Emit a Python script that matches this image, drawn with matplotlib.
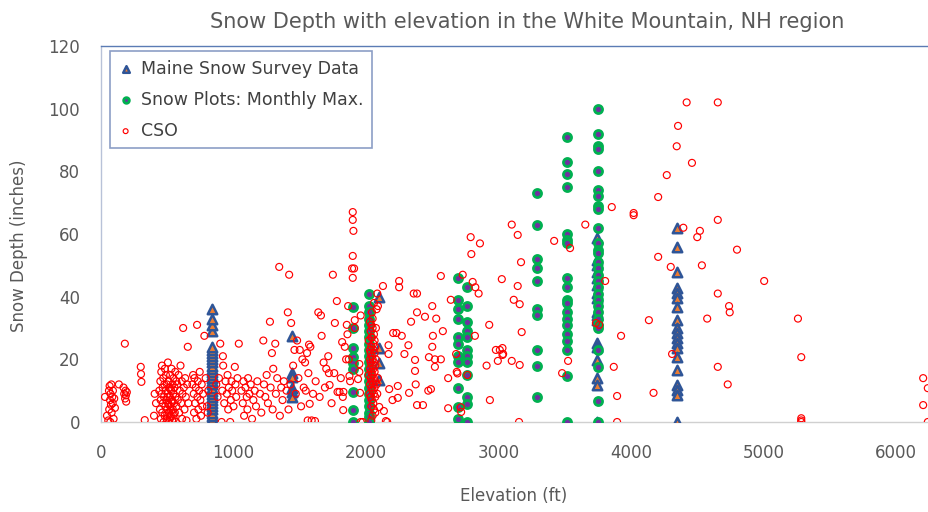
import matplotlib
matplotlib.use('Agg')
import matplotlib.pyplot as plt

# --- Maine Snow Survey Data (elevation ft, depth in) ---
maine_838 = [0, 1, 2, 3, 4, 5, 6, 7, 8, 9, 10, 11, 12, 13, 14, 15, 16, 17, 18, 19, 20, 21, 22, 23, 24,
             29, 31, 33, 36]
maine_1442 = [27.5, 15.6, 14.5, 11, 9.5, 8]
maine_2100 = [40, 23.6, 18.8, 13.4]
maine_3743 = [58.7, 51.7, 50.1, 47.9, 46, 43.7, 41.2, 39.6, 35.1, 34.2, 32.6, 25.2, 24, 19.8, 14, 11.8, 0]
maine_4347 = [61.9, 55.9, 47.9, 42.8, 41.2, 39.6, 36.7, 32.6, 30, 28.4, 26.8, 25.2, 23.6, 20.7, 16.6,
              11.8, 10.2, 8.6, 0]

# --- Snow Plots: Monthly Max. ---
plots_1900 = [36.7, 30, 23.6, 20.8, 18.8, 16.9, 9.6, 3.8, 0]
plots_2023 = [41, 37, 35, 33, 31, 29, 27, 25, 23, 21, 19, 17, 15, 13, 11, 9, 7, 5, 3, 1.5, 0]
plots_2694 = [46, 39, 36, 33, 27, 25, 21, 19, 10.8, 4.8, 1]
plots_2762 = [43, 37, 32, 29, 27, 23, 21, 19, 15, 8, 5.8, 0]
plots_3290 = [73, 63, 52, 49, 45, 36, 34, 23, 18, 8]
plots_3517 = [91, 83, 79, 75, 60, 58, 57, 46, 43, 39, 38, 35, 33, 31, 28, 26, 23, 14.7, 0]
plots_3750 = [100, 92, 88, 87, 80, 74, 72, 69, 68, 62, 57, 55, 54, 51, 49, 47, 45, 43, 41, 39, 37, 35,
              33, 31, 30, 23, 17.6, 6.7, 0]
plots_6288 = [34, 30, 27, 24, 20, 17, 13, 10, 6, 3]

# --- CSO (elevation, depth) ---
cso_valley = [
    (30, 8), (45, 2), (55, 0.5), (60, 10), (62, 4), (65, 11.5), (68, 7), (70, 0), (72, 9), (75, 5.5),
    (78, 12), (80, 3), (85, 8), (88, 6), (90, 10), (95, 1), (100, 7.5), (105, 4.5),
    (135, 12), (170, 11), (175, 9), (180, 25), (182, 7.5), (185, 10), (188, 8.5), (190, 6.5), (195, 9.5),
    (300, 17.6), (302, 15.3), (305, 12.8), (330, 0.6), (400, 2), (405, 9), (415, 6),
    (440, 10), (445, 4), (448, 13), (450, 7), (452, 1), (455, 16), (458, 9), (460, 18), (462, 3),
    (465, 11), (468, 6), (470, 14), (472, 0), (475, 8), (478, 12), (480, 2), (482, 17), (485, 5),
    (488, 10), (490, 15), (492, 7), (495, 1), (498, 12), (500, 4), (502, 9), (505, 19), (507, 6),
    (510, 13), (512, 0), (515, 3), (517, 11), (520, 8), (522, 15), (525, 5), (527, 2), (530, 10),
    (532, 17), (535, 7), (537, 0.5), (540, 12), (542, 4), (545, 9), (547, 14), (550, 1), (552, 6),
    (555, 11), (557, 3), (560, 16), (562, 8), (565, 0), (568, 13), (570, 5),
    (500, 2.5), (510, 5.5), (520, 1.5), (530, 3.5), (540, 6.5), (550, 2.5), (505, 8), (525, 10.5),
    (575, 12), (580, 7), (585, 15), (590, 3), (595, 10), (600, 18), (605, 6), (610, 13), (612, 1),
    (615, 9), (620, 30), (625, 11), (630, 4), (635, 14), (640, 8), (645, 0.5), (650, 12), (655, 24),
    (660, 6), (690, 12), (695, 15), (700, 9), (702, 3), (705, 14), (710, 6), (715, 11), (720, 1),
    (725, 31), (728, 8), (730, 13), (735, 4), (740, 10), (745, 16), (750, 7), (755, 2), (760, 12),
    (765, 5), (770, 9), (780, 27.5), (790, 14), (800, 5), (805, 3), (810, 10),
    (870, 12), (880, 8), (890, 14), (900, 25), (910, 0), (915, 10), (920, 21), (922, 18), (930, 6),
    (940, 13), (950, 9), (955, 15), (960, 4), (965, 11), (975, 0), (980, 7), (985, 13), (990, 10),
]
cso_mid = [
    (1000, 5), (1010, 17.6), (1015, 12), (1020, 8), (1030, 14), (1040, 25),
    (1060, 10), (1070, 6), (1075, 13), (1080, 2), (1090, 11), (1100, 8), (1105, 4), (1110, 14),
    (1120, 9), (1130, 12), (1140, 1), (1150, 7), (1160, 10), (1170, 5), (1180, 13), (1200, 9),
    (1210, 3), (1225, 26), (1230, 12), (1240, 8), (1250, 15), (1260, 6), (1275, 32), (1280, 11),
    (1290, 22), (1295, 4), (1300, 17), (1315, 25), (1320, 9), (1330, 14), (1345, 49.5), (1350, 2),
    (1360, 11), (1370, 7), (1380, 13), (1400, 10), (1410, 35), (1415, 4), (1420, 47), (1430, 12),
    (1435, 31.6), (1450, 18), (1460, 23), (1470, 9), (1480, 26), (1490, 14), (1500, 23), (1510, 5),
    (1520, 20), (1530, 11), (1540, 19), (1545, 10), (1555, 22), (1560, 0.5), (1565, 15.6),
    (1570, 24.7), (1575, 5.8), (1580, 24), (1590, 0.5), (1600, 9), (1615, 0.3), (1620, 13),
    (1640, 35), (1650, 8), (1660, 34), (1665, 27.5), (1680, 19), (1690, 11), (1700, 17), (1715, 21),
    (1720, 15.6), (1725, 11.8), (1740, 6), (1750, 47), (1760, 15.6), (1765, 31.6), (1780, 38.6),
    (1785, 9.6), (1800, 9.6), (1810, 14), (1820, 25.5), (1825, 8), (1828, 3.8), (1830, 9.6),
    (1840, 24), (1850, 20), (1855, 31), (1860, 28), (1865, 37), (1870, 20), (1875, 14.7), (1880, 13),
    (1900, 67), (1900, 64.5), (1905, 61), (1900, 53), (1895, 49), (1910, 49), (1900, 46),
    (1915, 32.5), (1915, 30), (1940, 13.7), (1950, 18.5), (1950, 16), (1955, 9.3), (1960, 34),
    (1960, 0), (1975, 0),
]
cso_2000s = [
    (2030, 32), (2035, 29), (2040, 31), (2045, 27), (2050, 30), (2055, 25), (2060, 28), (2065, 26),
    (2070, 24), (2030, 23), (2035, 22), (2040, 24), (2045, 21), (2050, 20), (2055, 23), (2060, 19),
    (2065, 22), (2070, 18), (2030, 17), (2035, 19), (2040, 16), (2045, 18), (2050, 15), (2055, 17),
    (2060, 14), (2065, 16), (2070, 13), (2030, 12), (2035, 14), (2040, 11), (2045, 13), (2050, 10),
    (2055, 12), (2060, 9), (2065, 11), (2070, 8), (2035, 8), (2045, 7), (2055, 6), (2040, 5),
    (2060, 4), (2050, 2), (2040, 0.5), (2075, 30), (2080, 36), (2085, 41), (2090, 37), (2075, 20),
    (2080, 12), (2085, 9), (2090, 14), (2045, 35), (2060, 38), (2050, 33), (2070, 3), (2020, 26),
    (2020, 15), (2025, 9), (2030, 20), (2040, 27),
    (2100, 4.8), (2128, 43.4), (2135, 3.5), (2150, 0.3), (2160, 0), (2170, 24.5), (2170, 21.7),
    (2175, 10.5), (2200, 7), (2205, 28.4), (2230, 28.4), (2240, 7.7), (2240, 11.5), (2250, 45),
    (2250, 43), (2270, 27.5), (2290, 21.7), (2320, 24.5), (2325, 9.3), (2340, 32), (2360, 41),
    (2370, 19.8), (2370, 16.3), (2375, 12), (2385, 41), (2385, 35), (2385, 5.4), (2430, 5.4),
    (2445, 33.6), (2470, 10), (2475, 20.7), (2490, 10.5), (2500, 37), (2500, 24), (2505, 27.5),
    (2520, 20), (2520, 17.6), (2530, 33), (2565, 46.6), (2565, 20), (2580, 29), (2620, 14),
    (2620, 4.4), (2640, 39), (2680, 21.7), (2685, 16), (2690, 15.5), (2715, 4.7), (2718, 3.2),
    (2730, 47), (2765, 15), (2790, 59), (2795, 53.6), (2805, 44.7), (2822, 27.5), (2825, 43),
    (2850, 41), (2860, 57),
]
cso_high = [
    (2910, 18), (2930, 31), (2935, 7), (2980, 23), (2995, 19.5), (3010, 23), (3025, 45.6),
    (3030, 21.4), (3035, 21.7), (3030, 23.6), (3100, 63), (3100, 19.5), (3115, 39), (3145, 43.4),
    (3145, 59.7), (3155, 0), (3160, 37.6), (3160, 18.2), (3170, 51), (3175, 28.7), (3420, 57.8),
    (3480, 15.6), (3525, 19.5), (3540, 55.5), (3655, 63), (3735, 31.6), (3760, 31), (3805, 45),
    (3855, 68.6), (3870, 17.6), (3895, 8.3), (3895, 0), (3925, 27.5), (4020, 66.7), (4020, 66),
    (4135, 32.5), (4170, 9.3), (4205, 71.8), (4205, 52.7), (4270, 78.8), (4300, 49.5), (4310, 21.7),
    (4345, 88), (4355, 94.5), (4395, 62), (4420, 102), (4460, 82.7), (4500, 59), (4520, 61),
    (4535, 50), (4575, 33), (4655, 102), (4655, 64.5), (4655, 41), (4655, 17.6), (4730, 12),
    (4740, 37), (4745, 35), (4800, 55), (5005, 45), (5260, 33), (5285, 20.7), (5285, 0.5),
    (5285, 1.2), (5285, 0), (6205, 14), (6240, 10.8), (6205, 5.4), (6240, 0),
]

maine_sets = [(838, maine_838), (1442, maine_1442), (2100, maine_2100), (3743, maine_3743), (4347, maine_4347)]
plot_sets = [(1900, plots_1900), (2023, plots_2023), (2694, plots_2694), (2762, plots_2762),
             (3290, plots_3290), (3517, plots_3517), (3750, plots_3750), (6288, plots_6288)]

maine_x = [e for e, vals in maine_sets for _ in vals]
maine_y = [v for _, vals in maine_sets for v in vals]
plots_x = [e for e, vals in plot_sets for _ in vals]
plots_y = [v for _, vals in plot_sets for v in vals]
cso_all = cso_valley + cso_mid + cso_2000s + cso_high
cso_x = [p[0] for p in cso_all]
cso_y = [p[1] for p in cso_all]

plt.rcParams['font.family'] = ['DejaVu Sans']
gray = '#595959'

fig = plt.figure(figsize=(9.29, 5.12), dpi=100)
# the plot area runs past the right edge of the picture, as in the cropped original
ax = fig.add_axes([101 / 929, 90 / 512, 927.5 / 929, 376 / 512])

ax.scatter(maine_x, maine_y, marker='^', s=6.8 ** 2, facecolor='#ED7D31', edgecolor='#2F5597',
           linewidths=1.8, label='Maine Snow Survey Data', zorder=3)
ax.scatter(plots_x, plots_y, marker='o', s=5.8 ** 2, facecolor='#7030A0', edgecolor='#00B050',
           linewidths=2.0, label='Snow Plots: Monthly Max.', zorder=4)
ax.scatter(cso_x, cso_y, marker='o', s=5.0 ** 2, facecolor='none', edgecolor='#FF0000',
           linewidths=0.85, label='CSO', zorder=5)

ax.set_xlim(0, 7000)
ax.set_ylim(0, 120)
ax.set_xticks(range(0, 6001, 1000))
ax.set_yticks(range(0, 121, 20))
ax.tick_params(length=0, labelsize=12, colors=gray)
ax.tick_params(axis='x', pad=16)
ax.tick_params(axis='y', pad=15)

ax.spines['top'].set_color('#5b7bb4')
ax.spines['left'].set_color('#b8c2d8')
ax.spines['bottom'].set_color('#d0d0d0')
ax.spines['right'].set_visible(False)
for s in ax.spines.values():
    s.set_linewidth(1.0)

fig.text(527 / 929, 1 - 22 / 512, 'Snow Depth with elevation in the White Mountain, NH region',
         ha='center', va='center', fontsize=15, color=gray)
fig.text(514 / 929, 1 - 496 / 512, 'Elevation (ft)', ha='center', va='center', fontsize=12, color=gray)
fig.text(19 / 929, 1 - 246 / 512, 'Snow Depth (inches)', ha='center', va='center', rotation=90,
         fontsize=12, color=gray)

leg = ax.legend(loc='upper left', bbox_to_anchor=(110 / 929, 1 - 51 / 512), bbox_transform=fig.transFigure,
                borderaxespad=0, fancybox=False, frameon=True, fontsize=12.5, labelcolor='#404040',
                handlelength=0.8, handletextpad=0.5, borderpad=0.5, labelspacing=0.75, markerscale=0.7)
leg.get_frame().set_edgecolor('#6f86b8')
leg.get_frame().set_linewidth(1.2)

fig.savefig('out.png', dpi=100)
